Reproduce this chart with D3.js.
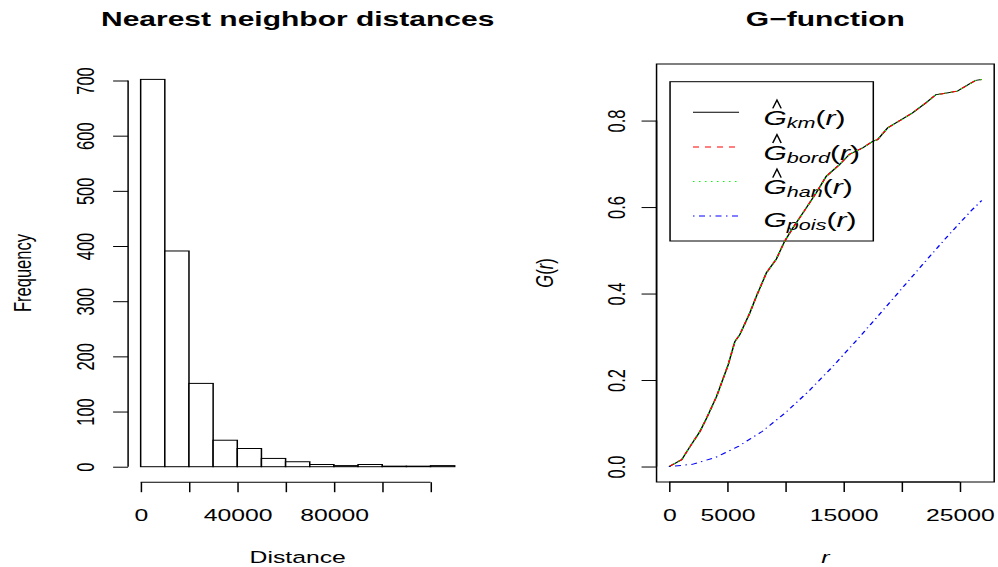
<!DOCTYPE html>
<html>
<head>
<meta charset="utf-8">
<script src="https://cdn.jsdelivr.net/npm/d3@7"></script>
<style>
  body { margin: 0; background: #fff; }
  svg { display: block; }
  text { font-family: "Liberation Sans", Arial, Helvetica, sans-serif; fill: #000; }
</style>
</head>
<body>
<svg id="fig" width="998" height="567"></svg>
<script>
// ---- Nearest neighbour distances: histogram with 10 000 wide bins ----
const binEdges = [0, 10000, 20000, 30000, 40000, 50000, 60000, 70000, 80000, 90000, 100000, 110000, 120000, 130000];
const binCounts = [702, 391, 151, 48, 33, 15, 9, 4, 2, 4, 1, 1, 2];
const histTicksX = [0, 20000, 40000, 60000, 80000, 100000, 120000];
const histTickLabelsX = ["0", "", "40000", "", "80000", "", ""];
const histTicksY = [0, 100, 200, 300, 400, 500, 600, 700];
const histTickLabelsY = ["0", "100", "200", "300", "400", "500", "600", "700"];

// ---- G-function: empirical estimates and the Poisson reference ----
const rKm = [0, 1089, 1800, 2657, 3231, 4088, 5083, 5657, 6086, 6943, 7517, 8374, 9231, 9943, 10654, 11803,
  12660, 13517, 14657, 15514, 16654, 17511, 17940, 18797, 19800, 20940, 22088, 22946, 23511, 24797, 25800, 26374, 26888];
const gKm = [0, 0.016, 0.046, 0.081, 0.112, 0.162, 0.235, 0.289, 0.305, 0.355, 0.394, 0.448, 0.480, 0.521, 0.552, 0.598,
  0.633, 0.671, 0.698, 0.722, 0.737, 0.752, 0.756, 0.783, 0.799, 0.818, 0.841, 0.860, 0.862, 0.868, 0.884, 0.893, 0.895];
const gBord = [0, 0.016, 0.046, 0.081, 0.112, 0.162, 0.235, 0.289, 0.305, 0.355, 0.394, 0.448, 0.480, 0.521, 0.552, 0.598,
  0.633, 0.671, 0.698, 0.722, 0.737, 0.752, 0.756, 0.783, 0.799, 0.818, 0.841, 0.860, 0.862, 0.868, 0.884, 0.893, 0.895];
const gHan = [0, 0.016, 0.046, 0.081, 0.112, 0.162, 0.235, 0.289, 0.305, 0.355, 0.394, 0.448, 0.480, 0.521, 0.552, 0.598,
  0.633, 0.671, 0.698, 0.722, 0.737, 0.752, 0.756, 0.783, 0.799, 0.818, 0.841, 0.860, 0.862, 0.868, 0.884, 0.893, 0.895];
const rPois = [0, 2000, 4000, 6000, 8000, 10000, 12000, 14000, 16000, 18000, 20000, 22000, 24000, 26000, 26888];
const gPois = [0, 0.005, 0.021, 0.047, 0.081, 0.124, 0.174, 0.229, 0.288, 0.349, 0.411, 0.473, 0.534, 0.592, 0.615];
const gTicksX = [0, 5000, 10000, 15000, 20000, 25000];
const gTickLabelsX = ["0", "5000", "", "15000", "", "25000"];
const gTicksY = [0, 0.2, 0.4, 0.6, 0.8];
const gTickLabelsY = ["0.0", "0.2", "0.4", "0.6", "0.8"];

const legendItems = [
  { sub: "km",   hat: true,  color: "#000000", dash: null },
  { sub: "bord", hat: true,  color: "#ff0000", dash: "4,4" },
  { sub: "han",  hat: true,  color: "#00ff00", dash: "1,3" },
  { sub: "pois", hat: false, color: "#0000ff", dash: "1,3,4,3" }
];

// ---- layout: the figure is laid out in a narrower page and stretched horizontally ----
const SX = 1.5;
const FS = 16.5;          // axis text size
const FS_MAIN = 20;       // panel titles
const FS_LEG = 20;        // legend text
const TICK = 10;

const svg = d3.select("#fig");
const root = svg.append("g").attr("transform", `scale(${SX},1)`);

// R-style 4% padding of a data range
const pad = ([a, b]) => [a - 0.04 * (b - a), b + 0.04 * (b - a)];

const histBox = { left: 85.4, right: 311.5, top: 63.9, bottom: 482.2 };
const gBox = { left: 437.7, right: 662.8, top: 64, bottom: 482 };

// ---------- left panel: histogram ----------
const xH = d3.scaleLinear().domain(pad([binEdges[0], binEdges[binEdges.length - 1]])).range([histBox.left, histBox.right]);
const yH = d3.scaleLinear().domain(pad([0, d3.max(binCounts)])).range([histBox.bottom, histBox.top]);

const bins = binCounts.map((c, i) => ({ x0: binEdges[i], x1: binEdges[i + 1], n: c }));
root.append("g").selectAll("rect").data(bins).join("rect")
  .attr("x", d => xH(d.x0))
  .attr("width", d => xH(d.x1) - xH(d.x0))
  .attr("y", d => yH(d.n))
  .attr("height", d => yH(0) - yH(d.n))
  .attr("fill", "#fff").attr("stroke", "#000").attr("stroke-width", 1);

function styleBottomAxis(g, scale, ticks, labelOffset) {
  g.select(".domain").remove();
  g.selectAll(".tick line").attr("stroke", "#000").attr("stroke-width", 1);
  g.selectAll(".tick text")
    .attr("y", labelOffset).attr("dy", "0.35em")
    .attr("font-size", FS).attr("font-family", null).attr("fill", "#000");
  g.append("line")
    .attr("x1", scale(ticks[0])).attr("x2", scale(ticks[ticks.length - 1]))
    .attr("stroke", "#000").attr("stroke-width", 1);
}
function styleLeftAxis(g, scale, ticks, labelOffset) {
  g.select(".domain").remove();
  g.selectAll(".tick line").attr("stroke", "#000").attr("stroke-width", 1);
  g.selectAll(".tick text")
    .attr("x", 0).attr("y", 0).attr("dy", "0.35em")
    .attr("text-anchor", "middle")
    .attr("transform", `translate(${-labelOffset},0) rotate(-90)`)
    .attr("font-size", FS).attr("font-family", null).attr("fill", "#000");
  g.append("line")
    .attr("y1", scale(ticks[0])).attr("y2", scale(ticks[ticks.length - 1]))
    .attr("stroke", "#000").attr("stroke-width", 1);
}

root.append("g")
  .attr("transform", `translate(0,${histBox.bottom})`)
  .call(d3.axisBottom(xH).tickValues(histTicksX).tickFormat((d, i) => histTickLabelsX[i]).tickSize(TICK).tickSizeOuter(0))
  .call(g => styleBottomAxis(g, xH, histTicksX, 33));

root.append("g")
  .attr("transform", `translate(${histBox.left},0)`)
  .call(d3.axisLeft(yH).tickValues(histTicksY).tickFormat((d, i) => histTickLabelsY[i]).tickSize(TICK).tickSizeOuter(0))
  .call(g => styleLeftAxis(g, yH, histTicksY, 28.5));

const histCx = (histBox.left + histBox.right) / 2;
root.append("text").attr("x", histCx).attr("y", 26).attr("text-anchor", "middle")
  .attr("font-size", FS_MAIN).attr("font-weight", "bold").text("Nearest neighbor distances");
root.append("text").attr("x", histCx).attr("y", 563).attr("text-anchor", "middle")
  .attr("font-size", FS).text("Distance");
root.append("text").attr("text-anchor", "middle").attr("dy", "0.35em")
  .attr("transform", `translate(14.7,${(histBox.top + histBox.bottom) / 2}) rotate(-90)`)
  .attr("font-size", FS).text("Frequency");

// ---------- right panel: G-function ----------
const xG = d3.scaleLinear().domain(pad([0, d3.max(rKm)])).range([gBox.left, gBox.right]);
const yG = d3.scaleLinear().domain(pad([0, d3.max(gKm)])).range([gBox.bottom, gBox.top]);

root.append("rect")
  .attr("x", gBox.left).attr("y", gBox.top)
  .attr("width", gBox.right - gBox.left).attr("height", gBox.bottom - gBox.top)
  .attr("fill", "none").attr("stroke", "#000").attr("stroke-width", 1);

root.append("g")
  .attr("transform", `translate(0,${gBox.bottom})`)
  .call(d3.axisBottom(xG).tickValues(gTicksX).tickFormat((d, i) => gTickLabelsX[i]).tickSize(TICK).tickSizeOuter(0))
  .call(g => styleBottomAxis(g, xG, gTicksX, 33));

root.append("g")
  .attr("transform", `translate(${gBox.left},0)`)
  .call(d3.axisLeft(yG).tickValues(gTicksY).tickFormat((d, i) => gTickLabelsY[i]).tickSize(TICK).tickSizeOuter(0))
  .call(g => styleLeftAxis(g, yG, gTicksY, 26.5));

const gCx = (gBox.left + gBox.right) / 2;
root.append("text").attr("x", gCx).attr("y", 26).attr("text-anchor", "middle")
  .attr("font-size", FS_MAIN).attr("font-weight", "bold").text("G\u2212function");
root.append("text").attr("x", gCx).attr("y", 563).attr("text-anchor", "middle")
  .attr("font-size", FS).attr("font-style", "italic").text("r");
const ylab = root.append("text").attr("text-anchor", "middle").attr("dy", "0.35em")
  .attr("transform", `translate(363.1,${(gBox.top + gBox.bottom) / 2}) rotate(-90)`)
  .attr("font-size", FS);
ylab.append("tspan").attr("font-style", "italic").text("G");
ylab.append("tspan").text("(");
ylab.append("tspan").attr("font-style", "italic").text("r");
ylab.append("tspan").text(")");

// ---------- legend (transparent box; the curves run across it) ----------
const leg = { left: 446.7, top: 81.7, width: 135.5, height: 159.3, first: 30.6, step: 34.6,
  lineX0: 462, lineX1: 492.7, textX: 509 };
const legG = root.append("g");
legG.append("rect")
  .attr("x", leg.left).attr("y", leg.top).attr("width", leg.width).attr("height", leg.height)
  .attr("fill", "none").attr("stroke", "#000").attr("stroke-width", 1);

legendItems.forEach((it, i) => {
  const y = leg.top + leg.first + i * leg.step;
  legG.append("line")
    .attr("x1", leg.lineX0).attr("x2", leg.lineX1).attr("y1", y).attr("y2", y)
    .attr("stroke", it.color).attr("stroke-width", 1).attr("stroke-dasharray", it.dash);
  const base = y + (it.hat ? 12.7 : 10.7);
  const t = legG.append("text").attr("x", leg.textX).attr("y", base).attr("font-size", FS_LEG);
  t.append("tspan").attr("font-style", "italic").text("G");
  t.append("tspan").attr("font-style", "italic").attr("font-size", FS_LEG * 0.72).attr("dy", 3).text(it.sub);
  t.append("tspan").attr("dy", -3).text("(");
  t.append("tspan").attr("font-style", "italic").text("r");
  t.append("tspan").text(")");
  if (it.hat) {
    const ext = t.node().getExtentOfChar(0);
    const cx = ext.x + ext.width / 2 + 1.2;
    const hw = 0.14 * FS_LEG;
    legG.append("path")
      .attr("d", `M${cx - hw},${base - 0.83 * FS_LEG}L${cx},${base - 1.25 * FS_LEG}L${cx + hw},${base - 0.83 * FS_LEG}`)
      .attr("fill", "none").attr("stroke", "#000").attr("stroke-width", 1);
  }
});

// ---------- curves, drawn over the legend ----------
const line = d3.line().x(d => xG(d[0])).y(d => yG(d[1]));
const curves = [
  { r: rKm, g: gKm, item: legendItems[0] },
  { r: rKm, g: gBord, item: legendItems[1] },
  { r: rKm, g: gHan, item: legendItems[2] },
  { r: rPois, g: gPois, item: legendItems[3] }
];
root.append("g").selectAll("path").data(curves).join("path")
  .attr("d", c => line(c.r.map((r, i) => [r, c.g[i]])))
  .attr("fill", "none")
  .attr("stroke", c => c.item.color)
  .attr("stroke-width", 1)
  .attr("stroke-dasharray", c => c.item.dash);
</script>
</body>
</html>
